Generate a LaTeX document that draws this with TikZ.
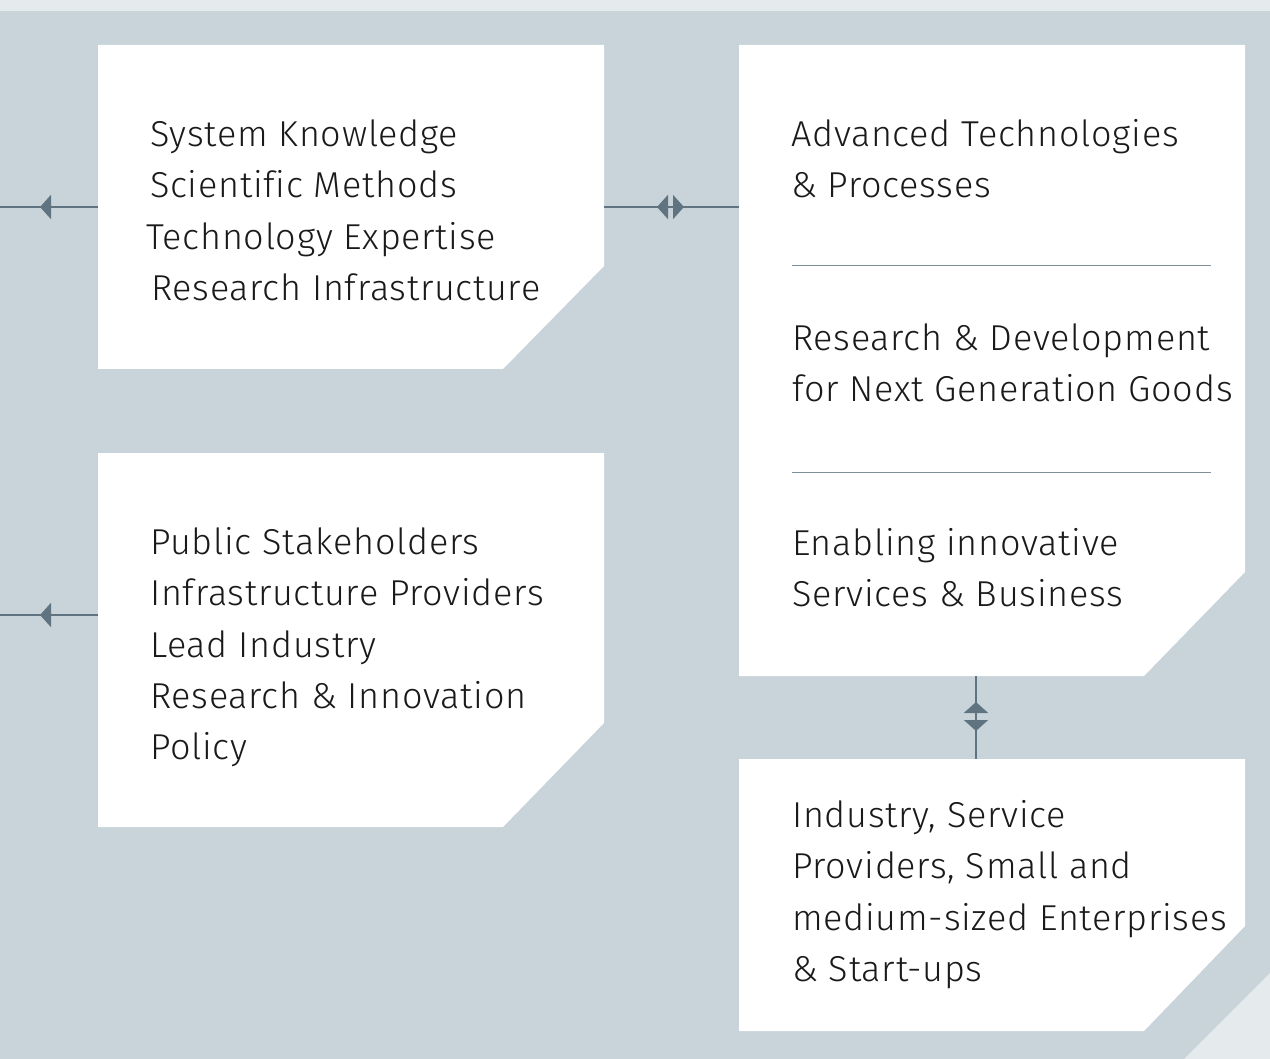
\documentclass[tikz,border=0pt]{standalone}
\usepackage{fontspec}
\setmainfont[LetterSpace=2.0,Ligatures=NoCommon]{Fira Sans Light}
\usetikzlibrary{arrows.meta,decorations.markings}
\definecolor{bgc}{HTML}{C8D4DA}
\definecolor{lightc}{HTML}{E5EAED}
\definecolor{linec}{HTML}{5F7480}
\definecolor{sepc}{HTML}{7D9099}
\definecolor{txtc}{HTML}{1A1A1A}
\tikzset{
 box/.style={fill=white},
 lbl/.style={anchor=base west, inner sep=0pt, font=\fontsize{36}{42}\selectfont, text=txtc},
 conn/.style={draw=linec, line width=2pt},
 sepline/.style={draw=sepc, line width=1pt},
}
\begin{document}
\begin{tikzpicture}[x=1pt,y=-1pt,>={Triangle[length=11pt,width=24pt]}]
\useasboundingbox (0,0) rectangle (1270,1059);
\fill[lightc] (0,0) rectangle (1270,11);
\fill[bgc] (0,11) rectangle (1270,1059);
\fill[lightc] (1270,973) -- (1270,1059) -- (1184,1059) -- cycle;

% boxes (chamfered bottom-right)
\path[box] (98,45) -- (604,45) -- (604,266) -- (503,369) -- (98,369) -- cycle;
\path[box] (98,453) -- (604,453) -- (604,723) -- (503,827) -- (98,827) -- cycle;
\path[box] (739,45) -- (1245,45) -- (1245,572) -- (1144,676) -- (739,676) -- cycle;
\path[box] (739,759) -- (1245,759) -- (1245,926) -- (1144,1031) -- (739,1031) -- cycle;

\draw[sepline] (792,266) -- (1211,266);
\draw[sepline] (792,472) -- (1211,472);

% connection points
\coordinate (b1w) at (98,207);
\coordinate (b1e) at (604,207);
\coordinate (b3w) at (739,207);
\coordinate (l1) at (0,207);
\coordinate (b2w) at (98,615);
\coordinate (l2) at (0,615);
\coordinate (b3s) at (976,676);
\coordinate (b4n) at (976,759);

\draw[conn, postaction={decorate}, decoration={markings, mark=at position 58pt with {\arrow{>}}}] (b1w) -- (l1);
\draw[conn, postaction={decorate}, decoration={markings, mark=at position 58pt with {\arrow{>}}}] (b2w) -- (l2);
\draw[conn, postaction={decorate}, decoration={markings,
   mark=at position 53pt with {\arrowreversed{>}},
   mark=at position 80pt with {\arrow{>}}}] (b1e) -- (b3w);
\draw[conn, postaction={decorate}, decoration={markings,
   mark=at position 26pt with {\arrowreversed{>}},
   mark=at position 55pt with {\arrow{>}}}] (b3s) -- (b4n);

% texts
\node[lbl] (t11) at (150,147) {System Knowledge};
\node[lbl] (t12) at (150,198) {Scientific Methods};
\node[lbl] (t13) at (146,250) {Technology Expertise};
\node[lbl] (t14) at (151,301) {Research Infrastructure};

\node[lbl] (t21) at (150,554) {Public Stakeholders};
\node[lbl] (t22) at (150,605) {Infrastructure Providers};
\node[lbl] (t23) at (150,657) {Lead Industry};
\node[lbl] (t24) at (150,708) {Research \& Innovation};
\node[lbl] (t25) at (150,759) {Policy};

\node[lbl] (t31) at (791,147) {Advanced Technologies};
\node[lbl] (t32) at (791,198) {\& Processes};
\node[lbl] (t33) at (792,351) {Research \& Development};
\node[lbl] (t34) at (792,402) {for Next Generation Goods};
\node[lbl] (t35) at (792,555) {Enabling innovative};
\node[lbl] (t36) at (792,606) {Services \& Business};

\node[lbl] (t41) at (792,827) {Industry, Service};
\node[lbl] (t42) at (792,878) {Providers, Small and};
\node[lbl] (t43) at (792,930) {medium-sized Enterprises};
\node[lbl] (t44) at (792,981) {\& Start-ups};
\end{tikzpicture}
\end{document}
